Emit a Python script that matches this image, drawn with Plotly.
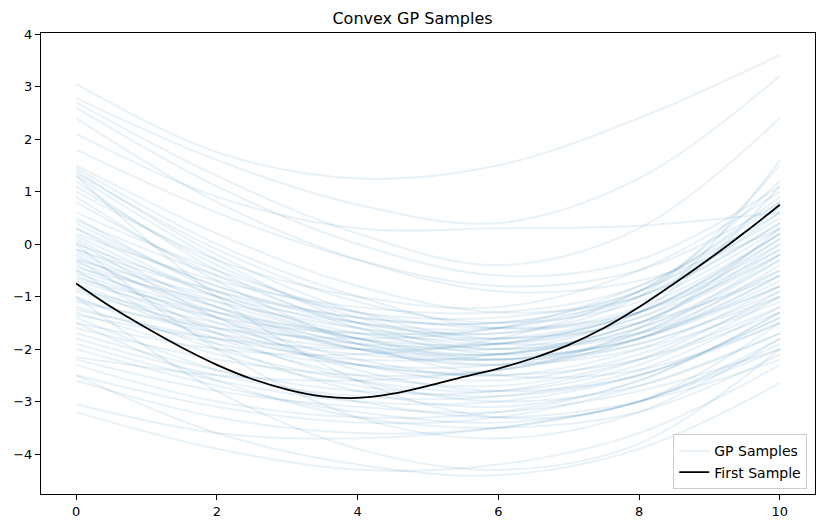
import plotly.graph_objects as go

x_points = [0, 2, 4, 6, 8, 10]

gp_samples = [
    [3.05, 1.75, 1.25, 1.5, 2.4, 3.6],
    [2.78, 1.6, 0.75, 0.4, 1.25, 3.2],
    [2.7, 1.3, 0.2, -0.4, 0.3, 2.4],
    [2.6, 1.1, 0.0, -0.6, -0.3, 1.1],
    [2.1, 0.9, 0.3, 0.3, 0.35, 0.6],
    [1.8, 0.6, -0.3, -0.8, -0.5, 0.8],
    [1.5, 0.2, -0.8, -1.3, -1.0, 0.4],
    [1.45, 0.0, -1.0, -1.6, -1.2, 1.6],
    [1.4, -0.2, -1.3, -1.8, -1.3, 0.2],
    [1.3, -0.3, -1.5, -2.0, -1.5, 0.0],
    [1.2, -0.5, -1.6, -2.1, -1.8, -0.6],
    [1.0, -0.3, -1.0, -1.2, -0.5, 1.0],
    [0.8, -0.6, -1.5, -1.7, -1.0, 1.5],
    [0.4, -0.8, -1.4, -1.5, -0.9, 0.5],
    [0.3, -1.0, -1.8, -2.1, -1.5, -0.2],
    [0.2, -0.7, -1.2, -1.3, -0.8, 0.8],
    [0.1, -1.2, -2.0, -2.3, -1.8, -0.4],
    [0.0, -0.9, -1.6, -1.9, -1.4, 0.1],
    [-0.1, -1.1, -1.8, -2.0, -1.3, 1.1],
    [-0.2, -1.4, -2.2, -2.5, -2.0, -0.8],
    [-0.3, -1.0, -1.5, -1.6, -1.0, 0.6],
    [-0.4, -1.5, -2.3, -2.6, -2.1, -1.0],
    [-0.5, -1.3, -1.9, -2.2, -1.7, -0.3],
    [-0.6, -1.6, -2.3, -2.4, -1.6, 0.3],
    [-0.7, -1.4, -1.7, -1.6, -0.9, 1.2],
    [-0.8, -1.8, -2.5, -2.7, -2.2, -1.2],
    [-0.9, -1.6, -2.0, -2.1, -1.6, -0.5],
    [-1.0, -2.0, -2.6, -2.8, -2.3, -1.0],
    [-1.2, -1.9, -2.3, -2.3, -1.7, -0.2],
    [-1.3, -2.1, -2.7, -2.9, -2.5, -1.5],
    [-1.5, -2.0, -2.1, -1.8, -0.9, 0.9],
    [-1.7, -2.4, -2.8, -2.8, -2.2, -0.9],
    [-1.9, -2.6, -3.0, -3.0, -2.5, -1.4],
    [-2.2, -2.8, -3.1, -3.2, -2.8, -2.0],
    [-2.3, -3.0, -3.3, -3.2, -2.6, -1.3],
    [-2.5, -3.1, -3.4, -3.3, -2.7, -1.7],
    [-3.05, -3.6, -3.7, -3.5, -3.0, -2.0],
    [-2.5, -3.6, -4.2, -4.4, -3.9, -2.65],
    [-3.2, -3.9, -4.3, -4.2, -3.6, -2.3],
    [-1.0, -2.8, -3.9, -4.3, -3.8, -2.0],
    [0.0, -2.0, -3.3, -3.7, -3.2, -1.8],
    [1.3, -1.0, -2.6, -3.3, -3.0, -1.5],
    [-2.0, -2.7, -3.2, -3.4, -3.0, -1.8],
    [-0.5, -1.9, -2.8, -3.1, -2.6, -1.3],
    [0.5, -0.9, -1.8, -2.2, -1.9, -0.9],
    [-1.4, -2.4, -3.0, -3.3, -3.0, -2.2],
    [-0.3, -1.7, -2.6, -3.0, -2.7, -1.7],
    [0.9, -0.7, -1.9, -2.5, -2.4, -1.5],
    [-1.1, -1.6, -1.8, -1.6, -0.8, 0.6],
    [0.3, -0.8, -1.5, -1.7, -1.2, 0.2],
    [1.35, -0.1, -1.1, -1.5, -1.1, 0.3],
    [0.6, -0.5, -1.3, -1.6, -1.3, -0.1],
    [-0.1, -0.9, -1.4, -1.5, -1.0, 0.4],
    [-0.35, -1.2, -1.8, -1.9, -1.4, -0.2],
    [-0.45, -1.1, -1.6, -1.8, -1.5, -0.6],
    [-0.55, -1.4, -2.0, -2.2, -1.8, -0.7],
    [-0.65, -1.3, -1.7, -1.8, -1.3, 0.0],
    [-0.85, -1.5, -1.9, -1.9, -1.3, 0.2],
    [-1.05, -1.7, -2.1, -2.2, -1.8, -0.8],
    [-1.25, -1.8, -2.2, -2.1, -1.5, -0.1],
    [-0.25, -1.3, -2.0, -2.3, -2.0, -1.1],
    [0.15, -1.0, -1.7, -2.0, -1.7, -0.5],
    [1.1, -0.4, -1.4, -1.9, -1.7, -0.8],
    [-1.6, -2.2, -2.5, -2.4, -1.8, -0.6],
    [-2.15, -2.5, -2.6, -2.4, -1.9, -1.0],
    [-1.8, -2.5, -2.9, -2.9, -2.4, -1.2],
    [0.05, -1.4, -2.4, -2.8, -2.5, -1.4],
    [-0.75, -1.7, -2.3, -2.5, -2.2, -1.3],
    [0.45, -0.6, -1.3, -1.4, -0.9, 0.7],
    [-1.35, -1.8, -2.0, -1.9, -1.3, 0.1],
    [-0.15, -1.2, -1.9, -2.1, -1.6, -0.3],
    [2.4, 0.8, -0.3, -0.9, -0.7, 0.3],
    [-2.6, -3.3, -3.6, -3.5, -3.0, -1.9],
    [-1.5, -2.6, -3.3, -3.5, -3.2, -2.1],
]

first_x = [0, 0.5, 1, 1.5, 2, 2.5, 3, 3.5, 4, 4.5, 5, 5.5, 6, 6.5, 7, 7.5, 8, 8.5, 9, 9.5, 10]
first_y = [-0.75, -1.2, -1.6, -1.97, -2.3, -2.57, -2.77, -2.9, -2.93, -2.85, -2.7, -2.53,
           -2.37, -2.17, -1.92, -1.6, -1.2, -0.75, -0.28, 0.22, 0.75]

fig = go.Figure()
for i, ys in enumerate(gp_samples):
    fig.add_trace(go.Scatter(
        x=x_points, y=ys, mode="lines",
        line=dict(color="rgba(31,119,180,0.1)", width=2, shape="spline"),
        name="GP Samples", legendgroup="gp", showlegend=(i == 0),
        hoverinfo="skip",
    ))
fig.add_trace(go.Scatter(
    x=first_x, y=first_y, mode="lines",
    line=dict(color="black", width=1.8, shape="spline"),
    name="First Sample",
))

axis_common = dict(
    showgrid=False, zeroline=False, showline=True, linecolor="black", linewidth=1,
    mirror=True, ticks="outside", ticklen=5, tickcolor="black",
    tickfont=dict(family="DejaVu Sans", size=13, color="black"),
)
fig.update_xaxes(range=[-0.5, 10.5], tickvals=[0, 2, 4, 6, 8, 10], **axis_common)
fig.update_yaxes(range=[-4.76, 4.02], tickvals=[-4, -3, -2, -1, 0, 1, 2, 3, 4],
                 ticktext=["\u22124", "\u22123", "\u22122", "\u22121", "0", "1", "2", "3", "4"],
                 **axis_common)

fig.update_layout(
    width=825, height=528,
    margin=dict(l=41, r=10, t=33, b=34),
    paper_bgcolor="white", plot_bgcolor="white",
    title=dict(text="Convex GP Samples", x=0.5, xanchor="center", y=0.965, yanchor="middle",
               font=dict(family="DejaVu Sans", size=16, color="black")),
    legend=dict(x=0.99, y=0.01, xanchor="right", yanchor="bottom",
                bgcolor="rgba(255,255,255,0.8)", bordercolor="#cccccc", borderwidth=1,
                font=dict(family="DejaVu Sans", size=14, color="black"),
                traceorder="normal"),
    showlegend=True,
)

fig.write_html("out.html")
